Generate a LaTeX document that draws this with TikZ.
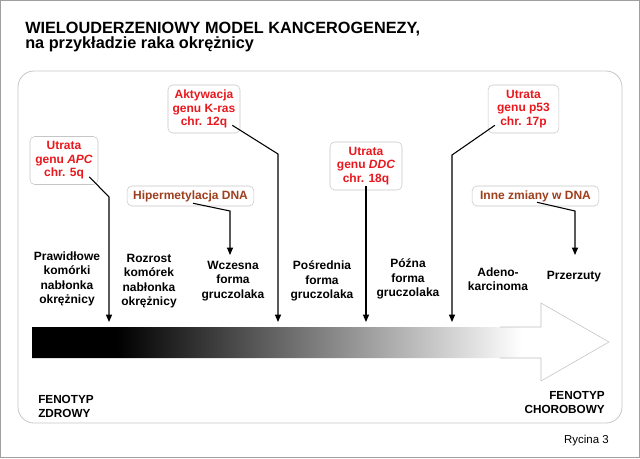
\documentclass[tikz,border=0pt]{standalone}
\usepackage{fontspec}
\setmainfont{Liberation Sans}
\usetikzlibrary{arrows.meta}
\usetikzlibrary{calc}

\definecolor{hitred}{HTML}{E8191E}
\definecolor{dnabrown}{HTML}{9E3F1D}

\begin{document}
\begin{tikzpicture}[x=0.75pt,y=-0.75pt]
	\tikzset{genebox/.style={draw=gray!45, fill=white, rounded corners=3.5pt, align=center, text=hitred, font=\bfseries\fontsize{9}{10.1}\selectfont, inner sep=0pt, minimum width=#1, minimum height=36pt}};
	\tikzset{dnabox/.style={genebox=#1, text=dnabrown, minimum height=15pt}};
	\tikzset{stagetxt/.style={align=center, font=\bfseries\fontsize{9}{10.7}\selectfont, inner sep=0pt}};
	\tikzset{hit/.style={-{Triangle[length=5.5pt,width=4.5pt]}, line width=0.8pt}};
	\useasboundingbox (0,0) rectangle (640,458);
	\draw[gray!75, line width=0.8pt] (0.5,0.5) rectangle (639.5,457.5);
	\draw[gray!45, line width=0.6pt, rounded corners=12pt] (18,71) rectangle (622,423);
	\node[anchor=base west, inner sep=0pt, font=\bfseries\fontsize{12.2}{14}\selectfont] (title) at (25,33) {WIELOUDERZENIOWY MODEL KANCEROGENEZY,};
	\node[anchor=base west, inner sep=0pt, font=\bfseries\fontsize{12.2}{14}\selectfont] (subtitle) at (25,48) {na przykładzie raka okrężnicy};
	\begin{scope}
		\clip (32,327) -- (541,327) -- (541,303) -- (609,342) -- (541,381) -- (541,358) -- (32,358) -- cycle;
		\fill[black] (32,300) rectangle (117,385);
		\shade[left color=black, right color=white] (117,300) rectangle (522,385);
	\end{scope}
	\draw[gray!50, line width=0.4pt] (500,327) -- (541,327) -- (541,303) -- (609,342) -- (541,381) -- (541,358) -- (500,358);
	\node[stagetxt] (normal) at (67,279) {Prawidłowe\\komórki\\nabłonka\\okrężnicy};
	\node[stagetxt] (hyper) at (149,281) {Rozrost\\komórek\\nabłonka\\okrężnicy};
	\node[stagetxt] (early) at (233,281) {Wczesna\\forma\\gruczolaka};
	\node[stagetxt] (inter) at (322,281) {Pośrednia\\forma\\gruczolaka};
	\node[stagetxt] (late) at (408,279) {Późna\\forma\\gruczolaka};
	\node[stagetxt] (carc) at (498,279) {Adeno-\\karcinoma};
	\node[stagetxt] (meta) at (574,277) {Przerzuty};
	\node[genebox=51pt] (apc) at (64,160.5) {Utrata\\genu \textit{APC}\\chr. 5q};
	\node[genebox=54pt] (kras) at (204,109) {Aktywacja\\genu K-ras\\chr. 12q};
	\node[dnabox=95pt] (methyl) at (190.5,196) {Hipermetylacja DNA};
	\node[genebox=54pt] (ddc) at (366,166) {Utrata\\genu \textit{DDC}\\chr. 18q};
	\node[genebox=53pt] (p53) at (523.5,109) {Utrata\\genu p53\\chr. 17p};
	\node[dnabox=95pt] (other) at (535.5,196) {Inne zmiany w DNA};
	\coordinate (apcend) at (109,322);
	\coordinate (krasend) at (278,322);
	\coordinate (methylend) at (230,255);
	\coordinate (ddcend) at (366,322);
	\coordinate (p53end) at (452,322);
	\coordinate (otherend) at (575,255);
	\draw[hit] ($(apc.south east)+(-9,-8)$) -- (apcend |- 0,197) -- (apcend);
	\draw[hit] ($(kras.south east)+(-8,-8)$) -- (krasend |- 0,154) -- (krasend);
	\draw[hit] ($(methyl.south)+(2.5,-3)$) -- (methylend |- 0,211) -- (methylend);
	\draw[hit] ($(ddc.south)+(0,-4)$) -- (ddcend);
	\draw[hit] ($(p53.south west)+(7,-8)$) -- (p53end |- 0,155) -- (p53end);
	\draw[hit] ($(other.south)+(1.5,-4)$) -- (otherend |- 0,211) -- (otherend);
	\node[anchor=west, align=left, inner sep=0pt, font=\bfseries\fontsize{8.8}{10.5}\selectfont] (healthy) at (38,406) {FENOTYP\\ZDROWY};
	\node[anchor=east, align=right, inner sep=0pt, font=\bfseries\fontsize{8.8}{10}\selectfont] (disease) at (605,402.5) {FENOTYP\\CHOROBOWY};
	\node[anchor=east, inner sep=0pt, font=\fontsize{8.6}{10}\selectfont] (fig) at (609,441) {Rycina 3};
\end{tikzpicture}
\end{document}
